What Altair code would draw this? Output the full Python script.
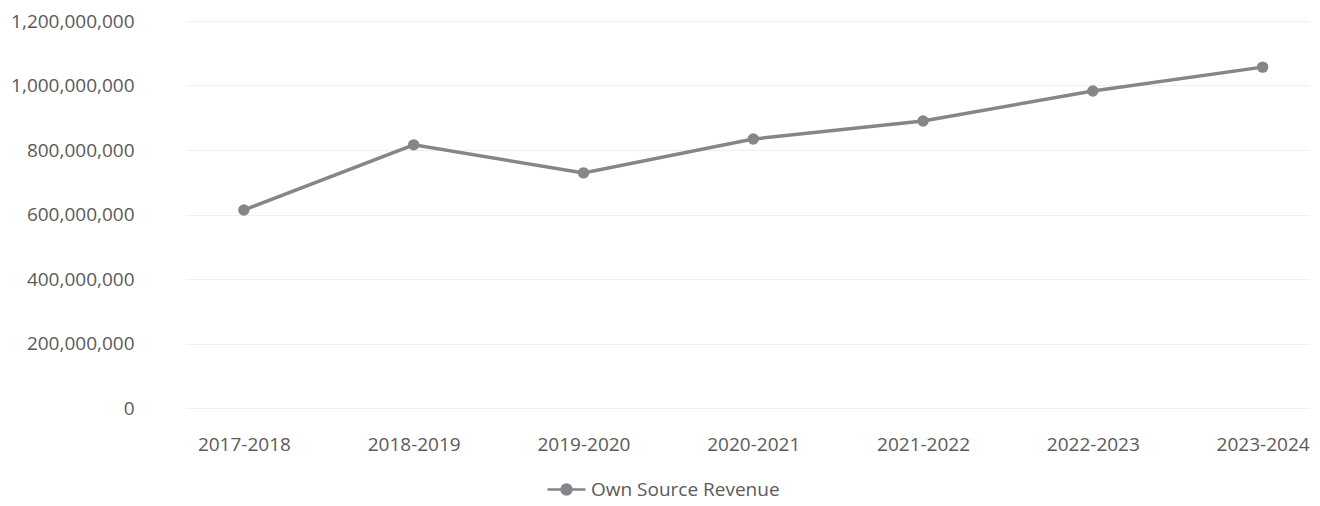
import altair as alt
import pandas as pd

years = ["2017-2018", "2018-2019", "2019-2020", "2020-2021", "2021-2022", "2022-2023", "2023-2024"]
revenue = [614000000, 816000000, 729000000, 834000000, 890000000, 983000000, 1057000000]
series = ["Own Source Revenue"] * len(years)

df = pd.DataFrame({"Year": years, "Revenue": revenue, "Series": series})

FONT = "Open Sans"
TXT = "#5a5a5a"
LINE = "#85858a"

x = alt.X("Year:N", sort=years, title=None,
          scale=alt.Scale(type="point", padding=0.31, align=0.55),
          axis=alt.Axis(labelAngle=0, domain=False, ticks=False, grid=False,
                        labelPadding=27, labelFontSize=19, labelColor=TXT, labelFont=FONT))
y = alt.Y("Revenue:Q", title=None,
          scale=alt.Scale(domain=[0, 1200000000]),
          axis=alt.Axis(values=[0, 200000000, 400000000, 600000000, 800000000, 1000000000, 1200000000],
                        format=",d", domain=False, ticks=False, labelPadding=52,
                        labelFontSize=19, labelColor=TXT, labelFont=FONT,
                        gridColor="#efefef", gridWidth=1))
color = alt.Color("Series:N", title=None,
                  scale=alt.Scale(range=[LINE]),
                  legend=alt.Legend(orient="none", legendX=360, legendY=448, labelLimit=400,
                                    symbolType="M-1,0L1,0M-0.26,0A0.26,0.26 0 1,1 0.26,0A0.26,0.26 0 1,1 -0.26,0",
                                    symbolSize=1444, symbolStrokeWidth=2.5, symbolFillColor=LINE,
                                    symbolStrokeColor=LINE,
                                    labelFontSize=19, labelColor=TXT, labelFont=FONT))

line = alt.Chart(df).mark_line(strokeWidth=3.5).encode(x=x, y=y, color=color)
pts = alt.Chart(df).mark_point(filled=True, size=130, opacity=1).encode(x=x, y=y, color=color)

chart = (line + pts).properties(
    width=1124, height=387, background="white",
    padding={"left": 2, "top": 4, "right": 0, "bottom": 0}
).configure_view(stroke=None)

chart.save("out.html", embed_options={"renderer": "svg", "actions": False})
